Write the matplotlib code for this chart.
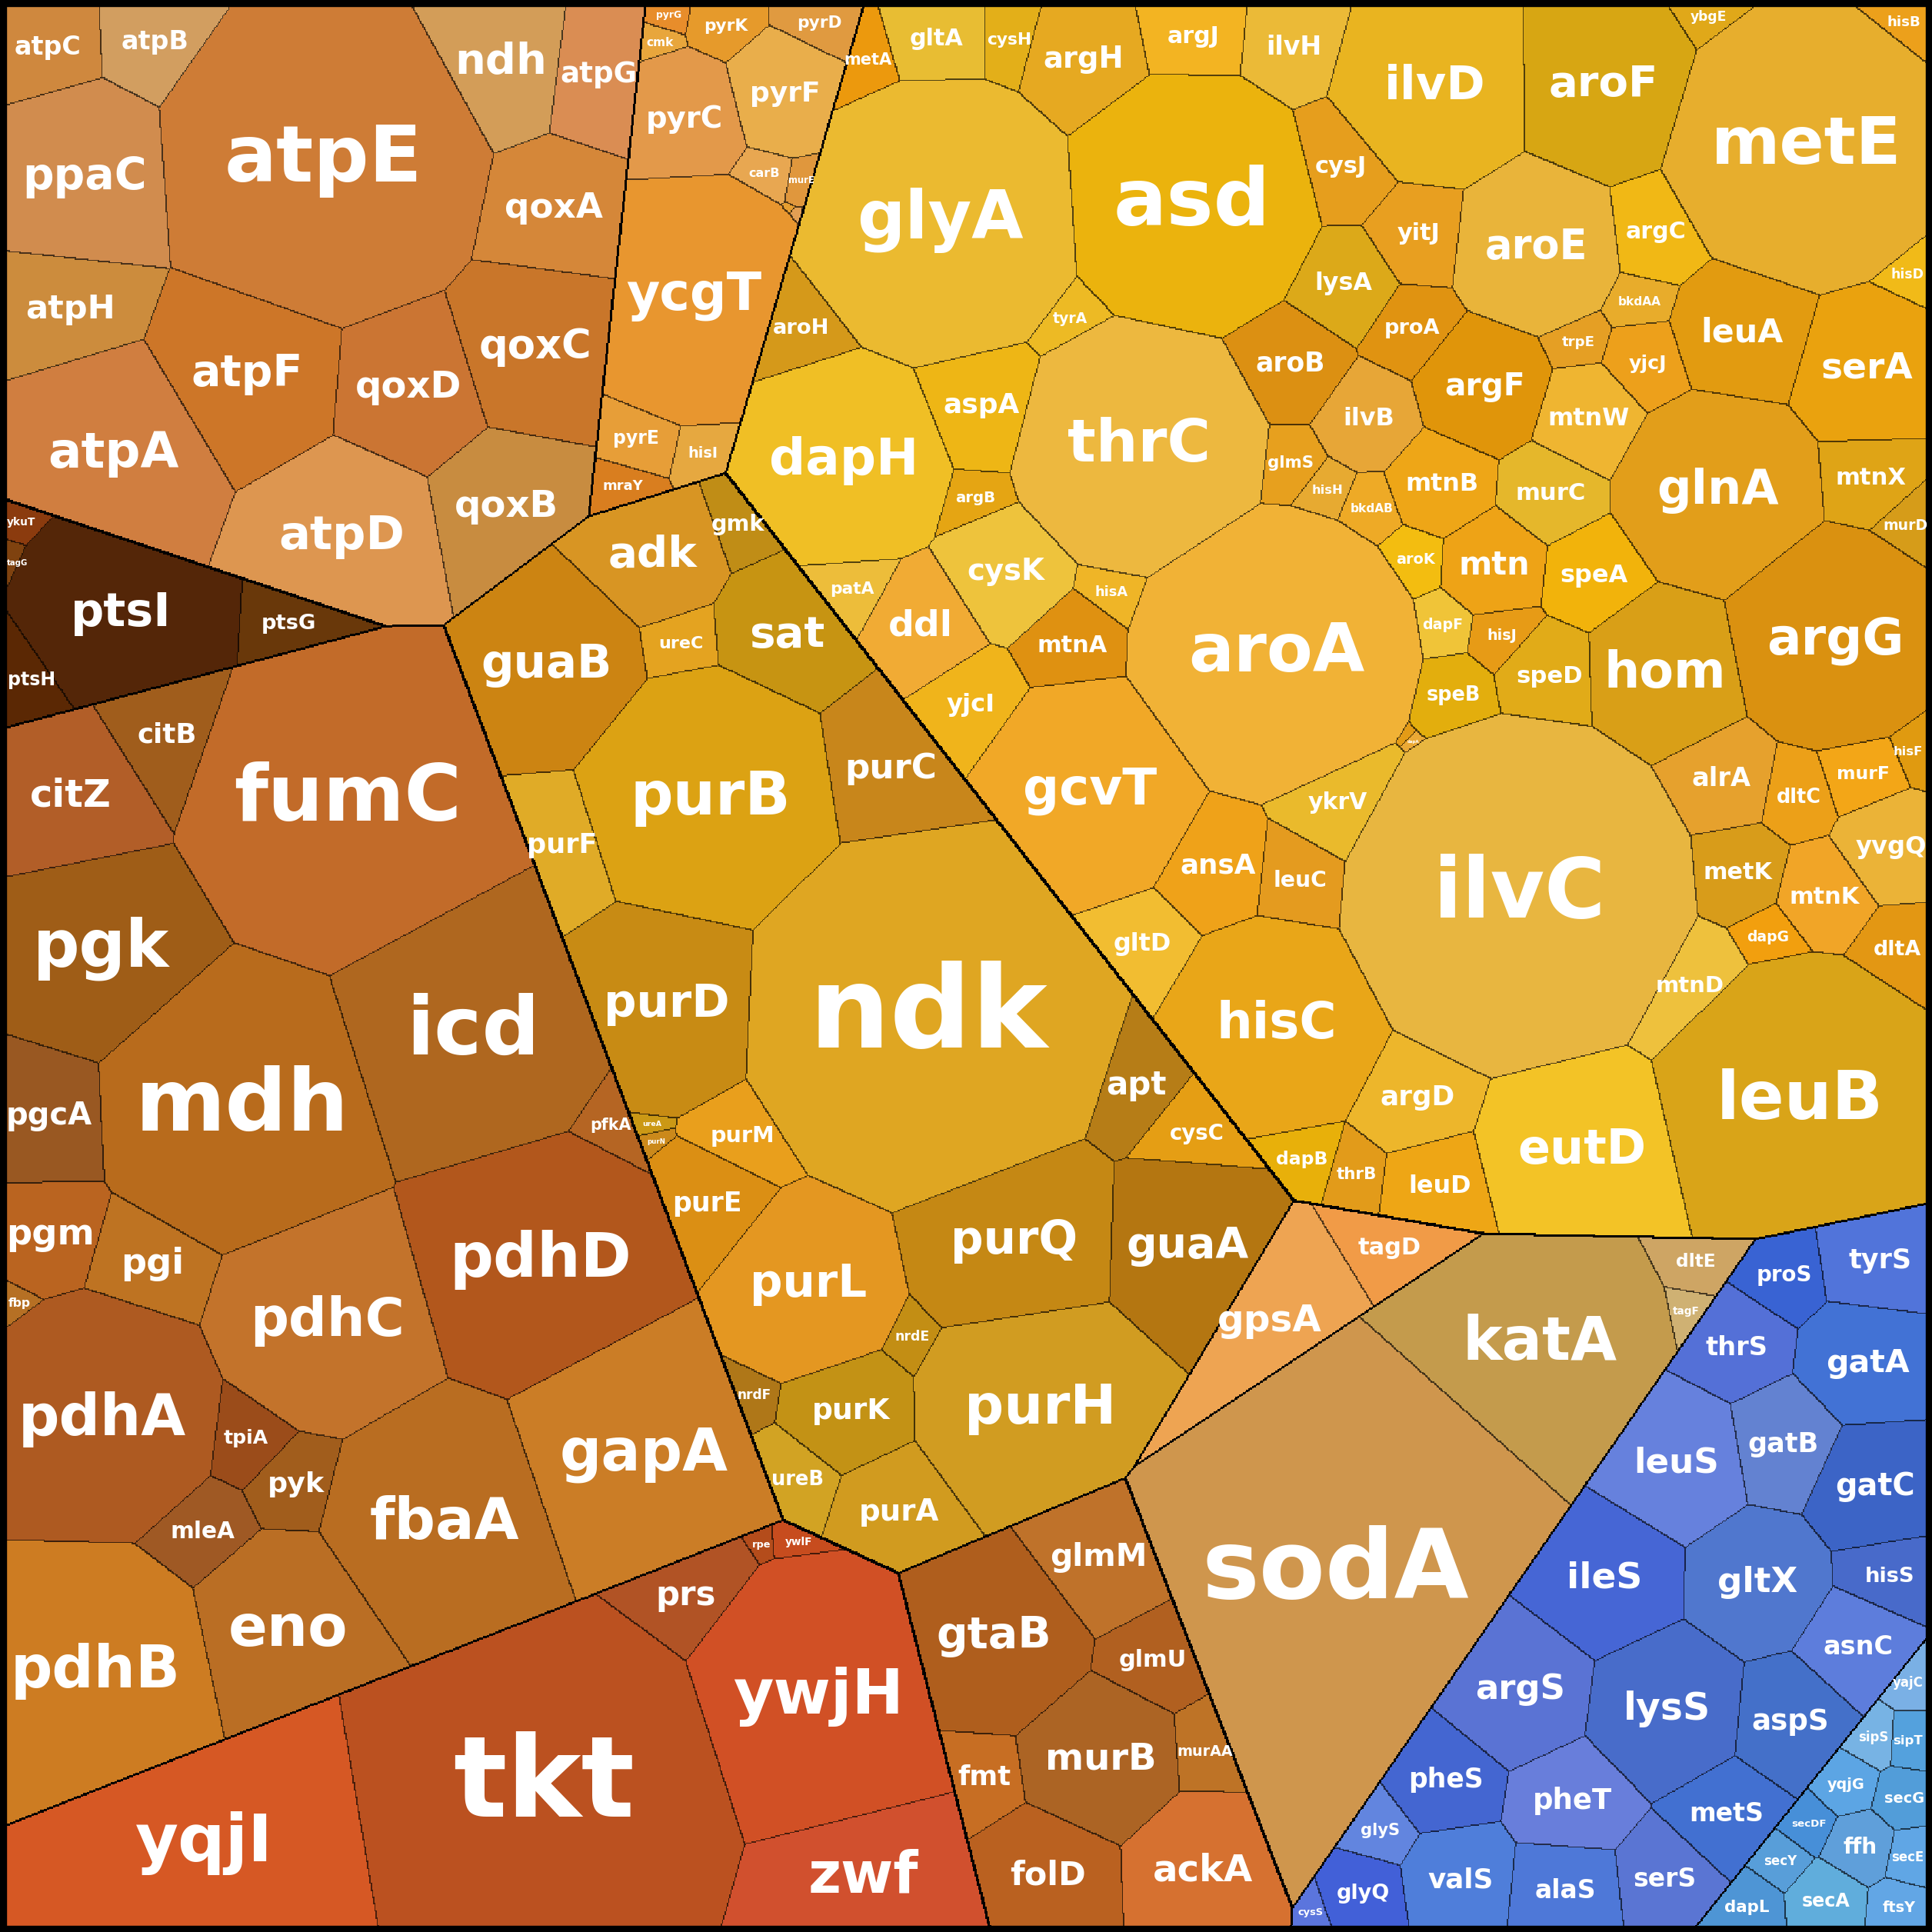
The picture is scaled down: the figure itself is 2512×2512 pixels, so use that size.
import numpy as np
import matplotlib
matplotlib.use('Agg')
import matplotlib.pyplot as plt
import colorsys
from matplotlib.colors import to_rgb

# ---------------- data ----------------
aa_genes = ['ilvC','aroA','metE','asd','glyA','thrC','leuB','argG','dapH','hisC','gcvT','glnA','eutD','aroF','ilvD',
            'aroE','hom','serA','leuA','argF','aroB','ilvB','cysK','ddl','alrA','ilvH','yjcI','mtnD','mtnW','mtn','mtnB',
            'lysA','gltD','murC','ansA','gltA','argD','dltA','serC','leuC','speA','cysJ','aspA','argC','yvgQ','proA',
            'argH','metK','dltC','yitJ','leuD','mtnK','mtnX','yjcJ','speD','ykrV','aroH','argJ','mtnA','dapA','speB',
            'dapB','thrB','glmS','metA','patA','murF','argB','hisJ','hisD','aroK','cysH','dapF','hisB','dapG','murD',
            'tyrA','hisA','trpE','bkdAA','bkdAB','ybgE','hisH','hisF']
aa_vals = [210,140,78,65,80,62,80,45,45,45,45,40,40,32,38,28,25,22,18,16,11,9,14,12,10,10,9,8,9,9,9,
           9,9,8,12,8,12,6,5,8,9,8,12,8,9,6,14,8,5,8,9,8,8,5,8,8,6,8,8,7,5,
           4,3,3,3,3,4,2,2,1.5,2,3,2,2,2,2,2,1.5,1.5,2,2,1.5,1,1]

nuc_genes = ['ndk','purB','purL','purQ','purH','guaB','purD','purC','sat','purK','adk','purF','purE','purM',
             'ureB','ureA','guaA','apt','purA','cysC','gmk','ureC','nrdE','nrdF','purN']
nuc_vals = [140,65,38,38,55,38,38,22,20,15,20,13,13,9,7,5,33,11,16,8,5,5,3,3,2]

pyr_genes = ['ycgT','pyrC','cmk','pyrF','pyrE','carB','pyrG','pyrD','pyrK','murE','hisI','carA','pyrB','mraY']
pyr_vals = [48,14,8,12,4,3,4,3,3,3,2,2,2,1.5]

gps_genes = ['gpsA','tagD']
gps_vals = [25,10]

atp_genes = ['atpE','atpA','atpD','atpF','atpH','ppaC','atpC','atpB','ndh','atpG','qoxA','qoxC','qoxD','qoxB']
atp_vals = [110,45,40,35,20,35,12,12,20,15,22,30,25,25]

pts_genes = ['ptsI','ptsG','ptsH','ykuT','tagG']
pts_vals = [40,8,6,2,1]

cen_genes = ['fumC','mdh','icd','pgk','citB','citZ','pgcA','pgi','pdhA','pdhB','pdhC','pdhD','pgm','tpiA','mleA',
             'pyk','eno','fbaA','gapA','pfkA','fbp']
cen_vals = [110,80,70,45,13,26,17,13,60,62,52,68,13,17,9,9,35,60,62,4,1]

ppp_genes = ['tkt','yqjI','ywjH','zwf','prs','ywlF','rpe']
ppp_vals = [135,80,70,35,12,2,1]

wall_genes = ['gtaB','murB','glmU','glmM','fmt','folD','ackA','murAA']
wall_vals = [35,25,10,18,8,20,25,6]

str_genes = ['sodA','katA','dltE','tagF']
str_vals = [170,65,6,2]

trna_genes = ['ileS','gltX','lysS','argS','leuS','gatA','gatC','gatB','tyrS','hisS','asnC','aspS','metS','serS',
              'alaS','valS','pheT','pheS','thrS','proS','glyS','glyQ','cysS']
trna_vals = [24,22,26,22,22,18,17,13,13,8,12,15,12,12,12,14,15,13,12,8,5,8,2]

sec_genes = ['secA','ffh','secE','secG','yqjG','secY','secDF','sipS','sipT','ftsY','dapL','yajC']
sec_vals = [6,5,3,4,4,3,3,3,3,4,5,3]

# ---------------- style / layout hints (fractions of the square) ----------------
groups = [
    (aa_genes, aa_vals, '#EEAE1C', (0.75, 0.30)),
    (nuc_genes, nuc_vals, '#CF9418', (0.43, 0.55)),
    (pyr_genes, pyr_vals, '#E89A2E', (0.31, 0.17)),
    (gps_genes, gps_vals, '#F2952C', (0.68, 0.70)),
    (atp_genes, atp_vals, '#D4883F', (0.13, 0.15)),
    (pts_genes, pts_vals, '#6E3409', (0.06, 0.36)),
    (cen_genes, cen_vals, '#B1621F', (0.14, 0.66)),
    (ppp_genes, ppp_vals, '#C24C22', (0.25, 0.94)),
    (wall_genes, wall_vals, '#C46A24', (0.56, 0.86)),
    (str_genes, str_vals, '#CFA45C', (0.74, 0.79)),
    (trna_genes, trna_vals, '#4F73D6', (0.87, 0.88)),
    (sec_genes, sec_vals, '#5EA6E0', (0.97, 0.96)),
]

seed_hints = {
    'ilvC': (0.79, 0.45), 'aroA': (0.63, 0.30), 'metE': (0.90, 0.12), 'asd': (0.59, 0.05), 'glyA': (0.46, 0.11),
    'thrC': (0.56, 0.17), 'leuB': (0.95, 0.52), 'argG': (0.96, 0.35), 'dapH': (0.42, 0.24), 'hisC': (0.64, 0.47),
    'gcvT': (0.56, 0.42), 'glnA': (0.81, 0.27), 'eutD': (0.86, 0.60), 'aroF': (0.75, 0.04), 'ilvD': (0.68, 0.09),
    'aroE': (0.75, 0.14), 'hom': (0.88, 0.31), 'serA': (0.97, 0.24), 'leuA': (0.89, 0.22), 'argF': (0.69, 0.18),
    'cysK': (0.51, 0.25), 'ddl': (0.5, 0.29), 'mtn': (0.75, 0.31), 'aroB': (0.64, 0.14), 'ilvB': (0.65, 0.18),
    'ndk': (0.46, 0.50), 'purB': (0.32, 0.39), 'purL': (0.49, 0.59), 'purQ': (0.53, 0.62), 'purH': (0.58, 0.68),
    'guaB': (0.24, 0.34), 'purD': (0.34, 0.45), 'guaA': (0.65, 0.65), 'adk': (0.32, 0.27), 'purC': (0.44, 0.38),
    'sat': (0.4, 0.38), 'purA': (0.6, 0.74), 'apt': (0.61, 0.6),
    'ycgT': (0.32, 0.18), 'pyrC': (0.36, 0.09), 'pyrF': (0.38, 0.03), 'cmk': (0.35, 0.06),
    'atpE': (0.16, 0.09), 'atpA': (0.05, 0.25), 'atpD': (0.15, 0.29), 'atpF': (0.13, 0.2), 'ppaC': (0.03, 0.12),
    'qoxD': (0.22, 0.2), 'qoxB': (0.2, 0.24), 'qoxC': (0.26, 0.15), 'qoxA': (0.29, 0.08), 'ndh': (0.27, 0.02),
    'atpG': (0.32, 0.02), 'atpB': (0.06, 0.02), 'atpC': (0.02, 0.04), 'atpH': (0.04, 0.18),
    'ptsI': (0.05, 0.34), 'ptsG': (0.1, 0.37), 'ptsH': (0.03, 0.4),
    'fumC': (0.15, 0.46), 'mdh': (0.2, 0.55), 'icd': (0.33, 0.58), 'pgk': (0.06, 0.6), 'citB': (0.03, 0.44),
    'citZ': (0.03, 0.51), 'pdhA': (0.07, 0.71), 'pdhB': (0.07, 0.82), 'pdhC': (0.25, 0.69), 'pdhD': (0.38, 0.7),
    'eno': (0.21, 0.83), 'fbaA': (0.34, 0.81), 'gapA': (0.47, 0.77), 'pgcA': (0.15, 0.62), 'pgi': (0.19, 0.61),
    'pgm': (0.17, 0.69), 'tpiA': (0.19, 0.75), 'mleA': (0.15, 0.78), 'pyk': (0.27, 0.78), 'pfkA': (0.33, 0.65),
    'yqjI': (0.07, 0.94), 'tkt': (0.26, 0.94), 'ywjH': (0.45, 0.91), 'zwf': (0.39, 0.97), 'prs': (0.15, 0.97),
    'gtaB': (0.54, 0.86), 'murB': (0.59, 0.85), 'glmU': (0.56, 0.75), 'glmM': (0.57, 0.79), 'fmt': (0.53, 0.94),
    'folD': (0.54, 0.97), 'ackA': (0.59, 0.96), 'murAA': (0.59, 0.91),
    'sodA': (0.69, 0.82), 'katA': (0.9, 0.66), 'dltE': (0.98, 0.61), 'tagF': (0.98, 0.58),
    'ileS': (0.81, 0.86), 'gltX': (0.89, 0.86), 'lysS': (0.86, 0.92), 'argS': (0.76, 0.91), 'leuS': (0.86, 0.81),
    'gatA': (0.96, 0.73), 'gatC': (0.96, 0.77), 'gatB': (0.93, 0.81), 'tyrS': (0.98, 0.68), 'hisS': (0.98, 0.81),
    'asnC': (0.97, 0.85), 'aspS': (0.94, 0.89), 'metS': (0.92, 0.93), 'serS': (0.88, 0.98), 'alaS': (0.83, 0.98),
    'valS': (0.76, 0.98), 'pheT': (0.8, 0.95), 'pheS': (0.72, 0.95), 'thrS': (0.9, 0.76), 'proS': (0.92, 0.73),
    'glyS': (0.66, 0.97), 'glyQ': (0.69, 0.99),
    'secA': (0.95, 0.98), 'ffh': (0.97, 0.96), 'dapL': (0.92, 0.99), 'ftsY': (0.99, 0.99), 'yajC': (0.99, 0.89),
    'sipS': (0.97, 0.91), 'sipT': (0.99, 0.92), 'secG': (0.98, 0.94), 'yqjG': (0.94, 0.94), 'secDF': (0.94, 0.95),
    'secE': (0.99, 0.96), 'secY': (0.93, 0.96),
}

N = 400      # layout grid
R = 1600     # render grid
rng = np.random.default_rng(3)


def assign(P, S, W, chunk=150000):
    out = np.empty(len(P), np.int32)
    for i in range(0, len(P), chunk):
        p = P[i:i + chunk]
        d = (p[:, 0:1] - S[None, :, 0]) ** 2 + (p[:, 1:2] - S[None, :, 1]) ** 2 - W[None, :]
        out[i:i + chunk] = d.argmin(1)
    return out


def power_layout(P, vals, S0, iters, move):
    S = S0.astype(np.float32).copy()
    k = len(S)
    W = np.zeros(k, np.float32)
    vals = np.asarray(vals, float)
    target = vals / vals.sum() * len(P)
    for it in range(iters):
        lab = assign(P, S, W)
        area = np.bincount(lab, minlength=k).astype(float)
        if move:
            cx = np.bincount(lab, P[:, 0], k)
            cy = np.bincount(lab, P[:, 1], k)
            nz = area > 0
            S[nz, 0] = cx[nz] / area[nz]
            S[nz, 1] = cy[nz] / area[nz]
        W += (0.6 * (target - area) / np.pi).astype(np.float32)
        if move:
            W -= W.min()
            D = ((S[:, None, :] - S[None, :, :]) ** 2).sum(-1)
            np.fill_diagonal(D, np.inf)
            W = np.minimum(W, D.min(1) * 0.95).astype(np.float32)
            empty = area == 0
            if empty.any():
                for i in np.where(empty)[0]:
                    S[i] = P[rng.integers(len(P))]
                    W[i] = 0
    return S, W


yy, xx = np.mgrid[0:N, 0:N]
P = np.c_[xx.ravel() + 0.5, yy.ravel() + 0.5].astype(np.float32)
gvals = [sum(g[1]) for g in groups]
S0 = np.array([[h[0] * N, h[1] * N] for _, _, _, h in groups])
GS, GW = power_layout(P, gvals, S0, 300, False)
glab = assign(P, GS, GW)

gene_params = []
for gi, (genes, vals, col, h) in enumerate(groups):
    Pg = P[glab == gi]
    idx = rng.choice(len(Pg), len(genes), replace=False)
    init = Pg[idx].copy()
    for j, g in enumerate(genes):
        if g in seed_hints:
            q = np.array(seed_hints[g]) * N
            k = np.argmin(((Pg - q) ** 2).sum(1))
            init[j] = Pg[k] + rng.uniform(-0.3, 0.3, 2)
    S, W = power_layout(Pg, vals, init, 120, True)
    gene_params.append((S, W))

sc = R / N
yy, xx = np.mgrid[0:R, 0:R]
PR = np.c_[xx.ravel() + 0.5, yy.ravel() + 0.5].astype(np.float32)
glabR = assign(PR, GS * sc, GW * sc * sc)
L = np.zeros(R * R, np.int32)
colors = []
names = []
offset = 0
for gi, (genes, vals, col, h) in enumerate(groups):
    m = glabR == gi
    S, W = gene_params[gi]
    L[m] = assign(PR[m], S * sc, W * sc * sc) + offset
    hh, ll, ss = colorsys.rgb_to_hls(*to_rgb(col))
    for j, g in enumerate(genes):
        dl = rng.uniform(-0.07, 0.07)
        ds = rng.uniform(-0.08, 0.05)
        colors.append(colorsys.hls_to_rgb(hh + rng.uniform(-0.012, 0.012), min(max(ll + dl, 0), 1), min(max(ss + ds, 0), 1)))
        names.append(g)
    offset += len(genes)
colors = np.array(colors)
L2 = L.reshape(R, R)
G2 = glabR.reshape(R, R)
img = colors[L2]

edge = np.zeros((R, R), bool)
edge[:, :-1] |= L2[:, :-1] != L2[:, 1:]
edge[:-1, :] |= L2[:-1, :] != L2[1:, :]
gedge = np.zeros((R, R), bool)
gedge[:, :-1] |= G2[:, :-1] != G2[:, 1:]
gedge[:-1, :] |= G2[:-1, :] != G2[1:, :]
gd = gedge.copy()
gd[1:, :] |= gedge[:-1, :]
gd[:, 1:] |= gedge[:, :-1]
img[edge] = img[edge] * 0.35
img[gd] = 0

fig = plt.figure(figsize=(10.048, 10.048), dpi=250)
ax = fig.add_axes([0, 0, 1, 1])
ax.imshow(img, extent=[0, R, R, 0], interpolation='nearest')
ax.set_xlim(0, R)
ax.set_ylim(R, 0)
ax.axis('off')

Lf = L2.ravel()
cnt = np.bincount(Lf, minlength=len(names))
cx = np.bincount(Lf, PR[:, 0], len(names))
cy = np.bincount(Lf, PR[:, 1], len(names))
pxs = 2512 / R
for i, nm in enumerate(names):
    if cnt[i] == 0:
        continue
    s = np.sqrt(cnt[i]) * pxs
    fpx = min(0.75 * s / (0.66 * len(nm) + 0.2), 0.42 * s)
    pt = fpx * 72 / 250
    if pt < 1.5:
        continue
    x = cx[i] / cnt[i]
    y = cy[i] / cnt[i]
    halfw = 0.66 * len(nm) * fpx / 2 / pxs + 6
    halfh = 0.5 * fpx / pxs + 6
    x = min(max(x, halfw), R - halfw)
    y = min(max(y, halfh), R - halfh)
    ax.text(x, y, nm, color='white', fontweight='bold', fontsize=pt,
            ha='center', va='center', family='DejaVu Sans')

ax.add_patch(plt.Rectangle((0, 0), R, R, fill=False, ec='black', lw=5, transform=ax.transData))
fig.savefig('out.png', dpi=250)
